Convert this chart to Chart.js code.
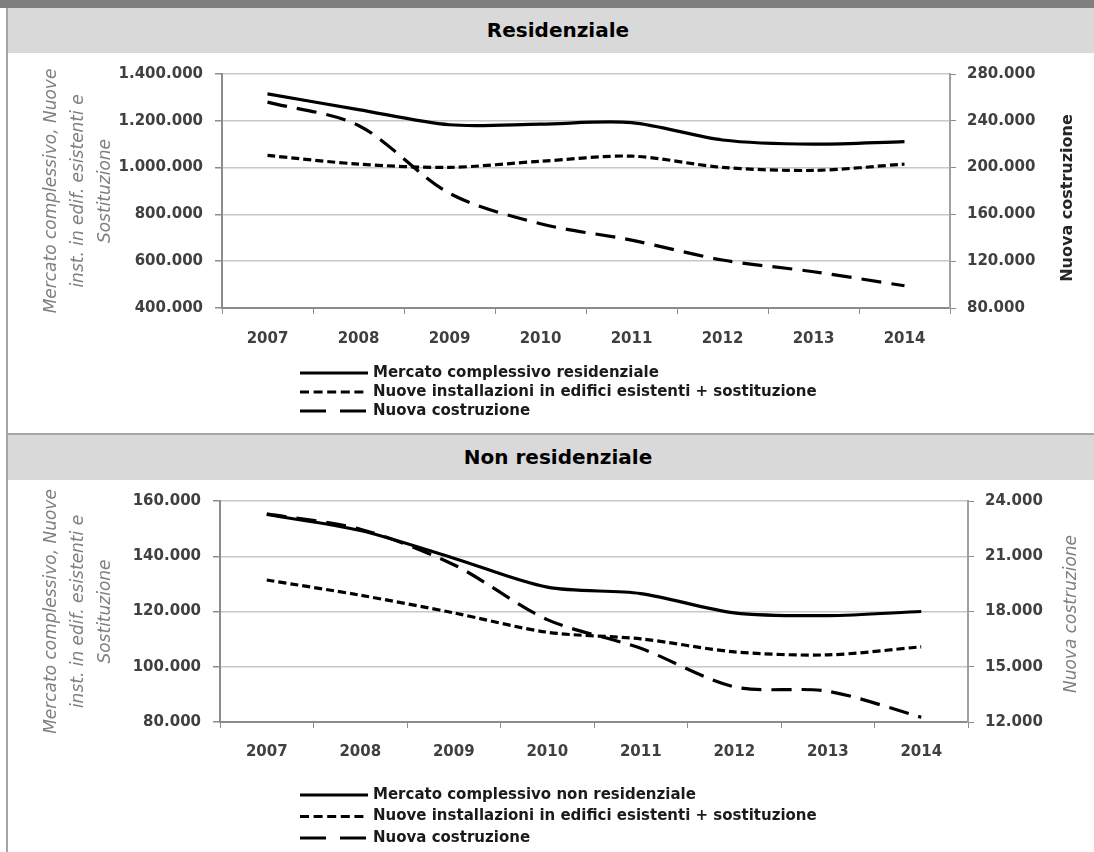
<!DOCTYPE html>
<html>
<head>
<meta charset="utf-8">
<script src="https://cdn.jsdelivr.net/npm/chart.js@4"></script>
<style>
  body { margin: 0; width: 1094px; height: 852px; overflow: hidden; background: #fff; position: relative; }
  .bar { position: absolute; left: 0; top: 0; width: 1094px; height: 8px; background: #7f7f7f; }
  .edge { position: absolute; left: 6px; top: 8px; width: 2px; height: 844px; background: #a6a6a6; }
  .sep { position: absolute; left: 8px; top: 433px; width: 1086px; height: 2px; background: #a6a6a6; }
  .band { position: absolute; left: 8px; width: 1072px; padding-left: 14px; height: 45px;
          background: #d9d9d9; text-align: center; font: bold 20px "DejaVu Sans"; line-height: 45px; color: #000; }
  canvas { position: absolute; left: 8px; }
</style>
</head>
<body>
<div class="bar"></div>
<div class="edge"></div>
<div class="band" style="top:8px">Residenziale</div>
<canvas id="c1" width="1086" height="366" style="top:53px"></canvas>
<div class="sep"></div>
<div class="band" style="top:435px">Non residenziale</div>
<canvas id="c2" width="1086" height="363" style="top:480px"></canvas>
<script>
// anni
const years = ['2007', '2008', '2009', '2010', '2011', '2012', '2013', '2014'];

// Residenziale
const resTotale = [1315000, 1248000, 1183000, 1186000, 1192000, 1118000, 1100000, 1111000];
const resEsistenti = [1052000, 1015000, 1001000, 1027000, 1049000, 1001000, 988000, 1015000];
const resNuova = [256000, 236000, 178000, 152000, 138000, 121000, 111000, 99000];

// Non residenziale
const nonResTotale = [155100, 149300, 139300, 128800, 126500, 119500, 118500, 120000];
const nonResEsistenti = [131400, 125900, 119500, 112500, 110100, 105400, 104300, 107200];
const nonResNuova = [23300, 22470, 20540, 17560, 16000, 13910, 13670, 12260];

const leftTitle = ['Mercato complessivo, Nuove', 'inst. in edif. esistenti e', 'Sostituzione'];
const legendDashes = [[], [9, 4.6], [26, 14]];

const fmt = v => String(v).replace(/\B(?=(\d{3})+(?!\d))/g, '.');
const tickFont = { family: 'DejaVu Sans', size: 15, weight: 'bold' };

const lineLegend = {
  id: 'lineLegend',
  afterDraw(chart, args, opts) {
    const ctx = chart.ctx;
    ctx.save();
    chart.data.datasets.forEach((ds, i) => {
      const y = opts.rows[i];
      ctx.beginPath();
      ctx.setLineDash(legendDashes[i]);
      ctx.lineWidth = 3;
      ctx.strokeStyle = '#000';
      ctx.moveTo(opts.x0, y);
      ctx.lineTo(opts.x1, y);
      ctx.stroke();
      ctx.setLineDash([]);
      ctx.font = 'bold 15px "DejaVu Sans"';
      ctx.fillStyle = '#1a1a1a';
      ctx.textBaseline = 'middle';
      ctx.fillText(ds.label, opts.x1 + 5, y);
    });
    ctx.restore();
  }
};

// titolo asse destro, ruotato come in Excel (dal basso verso l'alto)
const sideTitle = {
  id: 'sideTitle',
  afterDraw(chart, args, opts) {
    const ctx = chart.ctx;
    ctx.save();
    ctx.translate(opts.x, opts.y);
    ctx.rotate(-Math.PI / 2);
    ctx.font = opts.font;
    ctx.fillStyle = opts.color;
    ctx.textAlign = 'center';
    ctx.textBaseline = 'middle';
    ctx.fillText(opts.text, 0, 0);
    ctx.restore();
  }
};

function lineSet(label, values, dash, axis) {
  return {
    label: label, data: values, yAxisID: axis,
    borderColor: '#000', borderWidth: 3.2, borderDash: dash,
    pointRadius: 0, tension: 0.3, fill: false
  };
}

function makeChart(id, c) {
  return new Chart(document.getElementById(id), {
    type: 'line',
    data: {
      labels: years,
      datasets: [
        lineSet(c.names[0], c.data[0], [], 'y'),
        lineSet(c.names[1], c.data[1], [8, 4], 'y'),
        lineSet(c.names[2], c.data[2], [20, 10], 'y1')
      ]
    },
    options: {
      responsive: false,
      animation: false,
      devicePixelRatio: 1,
      layout: { padding: { top: c.top, left: 0, right: 0, bottom: 0 } },
      plugins: {
        legend: { display: false },
        tooltip: { enabled: false },
        lineLegend: { x0: 292, x1: 360, rows: c.rows },
        sideTitle: c.side
      },
      scales: {
        x: {
          offset: true,
          grid: { display: true, drawOnChartArea: false, offset: true, tickLength: 6, tickColor: '#8c8c8c' },
          border: { color: '#8c8c8c', width: 2 },
          ticks: { color: '#404040', font: tickFont, padding: c.xpad, maxRotation: 0, autoSkip: false },
          afterFit: s => { s.height = c.h - c.bottom; }
        },
        y: {
          position: 'left',
          min: c.left[0], max: c.left[1],
          ticks: { stepSize: c.left[2], color: '#404040', font: tickFont, padding: 12, callback: v => fmt(v) },
          grid: { color: '#c8c8c8', lineWidth: 1.5, tickLength: 7, tickColor: '#8c8c8c' },
          border: { color: '#8c8c8c', width: 2 },
          title: {
            display: true, text: leftTitle, color: '#808080',
            font: { family: 'DejaVu Sans', size: 17, style: 'italic', lineHeight: 1.6 },
            padding: { top: 30, bottom: 0 }
          },
          afterFit: s => { s.width = c.plotLeft; }
        },
        y1: {
          position: 'right',
          min: c.right[0], max: c.right[1],
          ticks: { stepSize: c.right[2], color: '#404040', font: tickFont, padding: 11, callback: v => fmt(v) },
          grid: { drawOnChartArea: false, tickLength: 6, tickColor: '#8c8c8c' },
          border: { color: '#a0a0a0', width: 2 },
          afterFit: s => { s.width = 1086 - c.plotRight; }
        }
      }
    },
    plugins: [lineLegend, sideTitle]
  });
}

makeChart('c1', {
  names: ['Mercato complessivo residenziale', 'Nuove installazioni in edifici esistenti + sostituzione', 'Nuova costruzione'],
  data: [resTotale, resEsistenti, resNuova],
  left: [400000, 1400000, 200000],
  right: [80000, 280000, 40000],
  h: 366, top: 13, bottom: 255, plotLeft: 214, plotRight: 942, xpad: 16,
  rows: [320, 339, 358],
  side: { text: 'Nuova costruzione', x: 1060, y: 145, font: 'bold 16px "DejaVu Sans"', color: '#262626' }
});

makeChart('c2', {
  names: ['Mercato complessivo non residenziale', 'Nuove installazioni in edifici esistenti + sostituzione', 'Nuova costruzione'],
  data: [nonResTotale, nonResEsistenti, nonResNuova],
  left: [80000, 160000, 20000],
  right: [12000, 24000, 3000],
  h: 363, top: 14, bottom: 242, plotLeft: 212, plotRight: 960, xpad: 15,
  rows: [315, 336.5, 358],
  side: { text: 'Nuova costruzione', x: 1064, y: 134, font: 'italic 17px "DejaVu Sans"', color: '#808080' }
});
</script>
</body>
</html>
